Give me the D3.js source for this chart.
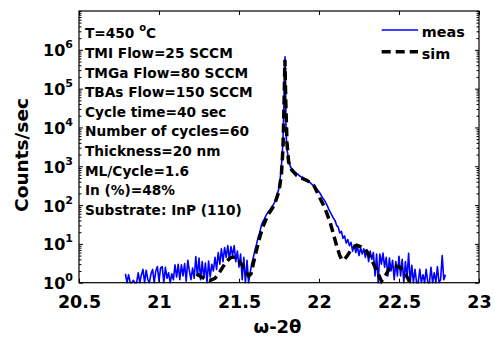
<!DOCTYPE html>
<html><head><meta charset="utf-8">
<script src="https://cdn.jsdelivr.net/npm/d3@7"></script>
<style>
body{margin:0;background:#fff;}
text{font-family:"DejaVu Sans",sans-serif;font-weight:bold;fill:#000;}
</style></head><body>
<svg id="c" width="495" height="341"></svg>
<script>
const xTicks=[20.5,21,21.5,22,22.5,23];
const xTickLabels=["20.5","21","21.5","22","22.5","23"];
const yTicks=[1,10,100,1e3,1e4,1e5,1e6];
const yTickExps=["0","1","2","3","4","5","6"];
const xLabel="ω-2θ";
const yLabel="Counts/sec";
const legendLabels=["meas","sim"];
const infoLines=["T=450 ^o^C","TMI Flow=25 SCCM","TMGa Flow=80 SCCM","TBAs Flow=150 SCCM","Cycle time=40 sec","Number of cycles=60","Thickness=20 nm","ML/Cycle=1.6","In (%)=48%","Substrate: InP (110)"];

const measX=[20.79,20.80,20.81,20.82,20.83,20.84,20.85,20.86,20.87,20.88,20.89,20.90,20.91,20.92,20.93,20.94,20.95,20.96,20.97,20.98,20.99,
21.00,21.01,21.02,21.03,21.04,21.05,21.06,21.07,21.08,21.09,21.10,21.11,21.12,21.13,21.14,21.15,21.16,21.17,21.18,21.19,
21.20,21.21,21.22,21.23,21.24,21.25,21.26,21.27,21.28,21.29,21.30,21.31,21.32,21.33,21.34,21.35,21.36,21.37,21.38,21.39,
21.40,21.41,21.42,21.43,21.44,21.45,21.46,21.47,21.48,21.49,21.50,21.51,21.52,21.53,21.54,21.55,21.56,21.57,21.58,21.59,
21.60,21.61,21.62,21.63,21.64,21.65,21.66,21.67,21.68,21.69,21.70,21.71,21.72,21.73,21.74,21.75,21.76,21.77,21.775,21.78,21.785,21.788,21.791,21.794,21.797,
21.80,21.81,21.82,21.83,21.84,21.85,21.86,21.87,21.88,21.89,21.90,21.91,21.92,21.93,21.94,21.95,21.96,21.97,21.98,21.99,
22.00,22.01,22.02,22.03,22.04,22.05,22.06,22.07,22.08,22.09,22.10,22.11,22.12,22.13,22.14,22.15,22.16,22.17,22.18,22.19,
22.20,22.21,22.22,22.23,22.24,22.25,22.26,22.27,22.28,22.29,22.30,22.31,22.32,22.33,22.34,22.35,22.36,22.37,22.38,22.39,
22.40,22.41,22.42,22.43,22.44,22.45,22.46,22.47,22.48,22.49,22.50,22.51,22.52,22.53,22.54,22.55,22.56,22.57,22.58,22.59,
22.60,22.61,22.62,22.63,22.64,22.65,22.66,22.67,22.68,22.69,22.70,22.71,22.72,22.73,22.74,22.75,22.76,22.77,22.78,22.79];
const measY=[1.7,1,1.6,1,1,1.15,1,1,1.8,1,1.6,2.2,1,2.1,1.2,1,1.7,2.2,1,2.0,2.6,
1.1,2.4,2.6,1,2.5,1.3,1.8,1,1.7,1.2,2.9,1.4,3.0,1.2,2.9,1.5,3.1,1.1,3.8,2.0,
1.2,2.4,1.3,4.7,1.5,4.3,1.2,3.5,1.3,3.2,1.0,3.6,1.4,3.0,2.0,4.5,2.2,6.0,3.0,7.5,
3.5,8.0,4.5,9.0,4.0,8.5,5.0,9.0,3.5,6.5,2.5,5.5,1.2,4.5,1.0,3.8,1.0,1.8,3.2,4.5,
7,10,15,20,30,38,45,55,64,72,83,95,112,140,190,280,600,1800,5000,3e4,3e5,6.6e5,1e5,1e4,4000,
2600,1600,1000,850,750,700,660,610,560,530,500,475,450,420,390,360,330,305,280,250,
220,190,160,140,120,100,80,66,55,46,40,30,27,19,21,14,16,10.5,13,9,
11,6.5,9.5,6,8.5,5,8,5.5,7.5,4.5,7,3.5,6.5,4,6,1.5,5.5,1.0,5.5,3,
5.8,2.5,4.5,1.5,4.3,2,3.8,1.2,3.5,1.5,4.8,1.5,4,1.0,3.5,1.3,5.7,1.0,2.8,1,
2.2,1,1,2.2,1,1.6,1,2.2,1,1,2.5,1,1.8,1,2.6,1,1.2,5.0,1.2,1.6];

const simX=[21.235,21.26,21.29,21.32,21.35,21.38,21.41,21.44,21.46,21.48,21.50,21.52,21.54,21.56,21.575,21.59,21.61,21.63,21.65,21.68,21.71,21.73,21.75,21.765,21.775,21.782,21.787,21.792,21.80,21.81,21.83,21.86,21.90,21.93,21.97,22.00,22.03,22.05,22.07,22.09,22.11,22.13,22.145,22.16,22.18,22.20,22.235,22.26,22.30,22.33,22.36,22.39,22.41,22.44,22.47,22.50,22.53,22.56,22.58,22.60];
const simY=[1.7,1.45,1.25,1.15,1.3,1.9,3.0,4.2,4.6,4.4,3.7,2.8,2.0,1.5,1.7,3.2,7,15,28,55,85,130,230,600,3000,5e4,5.5e5,5e4,4000,1300,800,580,480,420,310,170,95,60,35,18,9,5,3.8,4.0,5.2,7,9.2,8.5,6.3,3.8,2.1,1.1,1.4,2.3,2.7,2.6,2.0,1.2,0.7,0.4];

const W=495,H=341;
const m={l:79,t:11,r:479,b:282.7};
const x=d3.scaleLinear().domain([20.5,23]).range([m.l,m.r]);
const y=d3.scaleLog().domain([1,1e7]).range([m.b,m.t]);
const svg=d3.select("#c");
svg.append("rect").attr("width",W).attr("height",H).attr("fill","#fff");
svg.append("clipPath").attr("id","clip").append("rect")
  .attr("x",m.l).attr("y",m.t).attr("width",m.r-m.l).attr("height",m.b-m.t+2);

const line=d3.line().x(d=>x(d[0])).y(d=>y(Math.max(d[1],0.01)));
const meas=measX.map((v,i)=>[v,measY[i]]);
const sim=simX.map((v,i)=>[v,simY[i]]);
const g=svg.append("g").attr("clip-path","url(#clip)");
g.append("path").datum(meas).attr("d",line).attr("fill","none").attr("stroke","#0000ff").attr("stroke-width",1.6).attr("stroke-linejoin","round");
g.append("path").datum(sim).attr("d",line).attr("fill","none").attr("stroke","#000").attr("stroke-width",3.5).attr("stroke-dasharray","9,5");

// axes
const minor=y.ticks().filter(v=>!yTicks.includes(v));
function clean(sel){sel.select(".domain").remove();sel.selectAll("line").attr("stroke","#000");}
svg.append("g").attr("transform",`translate(0,${m.b})`).call(d3.axisBottom(x).tickValues(xTicks).tickSize(-4).tickFormat((d,i)=>xTickLabels[i])).call(clean)
  .call(s=>s.selectAll("text").attr("y",25.3).attr("dy",null).attr("font-size",17.5).attr("font-family","DejaVu Sans").attr("font-weight","bold").attr("fill","#000"));
svg.append("g").attr("transform",`translate(0,${m.t})`).call(d3.axisTop(x).tickValues(xTicks).tickSize(-4).tickFormat("")).call(clean);
svg.append("g").attr("transform",`translate(${m.l},0)`).call(d3.axisLeft(y).tickValues(yTicks).tickSize(-4).tickFormat("")).call(clean);
svg.append("g").attr("transform",`translate(${m.l},0)`).call(d3.axisLeft(y).tickValues(minor).tickSize(-2.5).tickFormat("")).call(clean);
svg.append("g").attr("transform",`translate(${m.r},0)`).call(d3.axisRight(y).tickValues(yTicks).tickSize(-4).tickFormat("")).call(clean);
svg.append("g").attr("transform",`translate(${m.r},0)`).call(d3.axisRight(y).tickValues(minor).tickSize(-2.5).tickFormat("")).call(clean);
svg.append("rect").attr("x",m.l).attr("y",m.t).attr("width",m.r-m.l).attr("height",m.b-m.t).attr("fill","none").attr("stroke","#000").attr("stroke-width",1.2);

// y tick labels
yTicks.forEach((v,i)=>{
  const t=svg.append("text").attr("x",73).attr("y",y(v)+6.5).attr("text-anchor","end");
  t.append("tspan").attr("font-size",16).text("10");
  t.append("tspan").attr("font-size",11).attr("dy",-8).text(yTickExps[i]);
});

// axis titles
svg.append("text").attr("transform","translate(28,155) rotate(-90)").attr("text-anchor","middle").attr("font-size",18.5).text(yLabel);
svg.append("text").attr("x",277.5).attr("y",333).attr("text-anchor","middle").attr("font-size",18).text(xLabel);

// info block
infoLines.forEach((s,i)=>{
  const t=svg.append("text").attr("x",85).attr("y",38.3+i*19.63).attr("font-size",13.7);
  const parts=s.split("^");
  if(parts.length===3){
    t.append("tspan").text(parts[0]);
    t.append("tspan").attr("font-size",10).attr("dy",-7).text(parts[1]);
    t.append("tspan").attr("dy",7).text(parts[2]);
  } else t.text(s);
});

// legend
const lg=svg.append("g");
lg.append("line").attr("x1",381.7).attr("x2",418).attr("y1",30).attr("y2",30).attr("stroke","#0000ff").attr("stroke-width",1.6);
lg.append("line").attr("x1",381.7).attr("x2",418).attr("y1",51.7).attr("y2",51.7).attr("stroke","#000").attr("stroke-width",3.5).attr("stroke-dasharray","9,5");
lg.append("text").attr("x",421.7).attr("y",36.7).attr("font-size",14.4).text(legendLabels[0]);
lg.append("text").attr("x",421.7).attr("y",59.3).attr("font-size",14.4).text(legendLabels[1]);
</script></body></html>
